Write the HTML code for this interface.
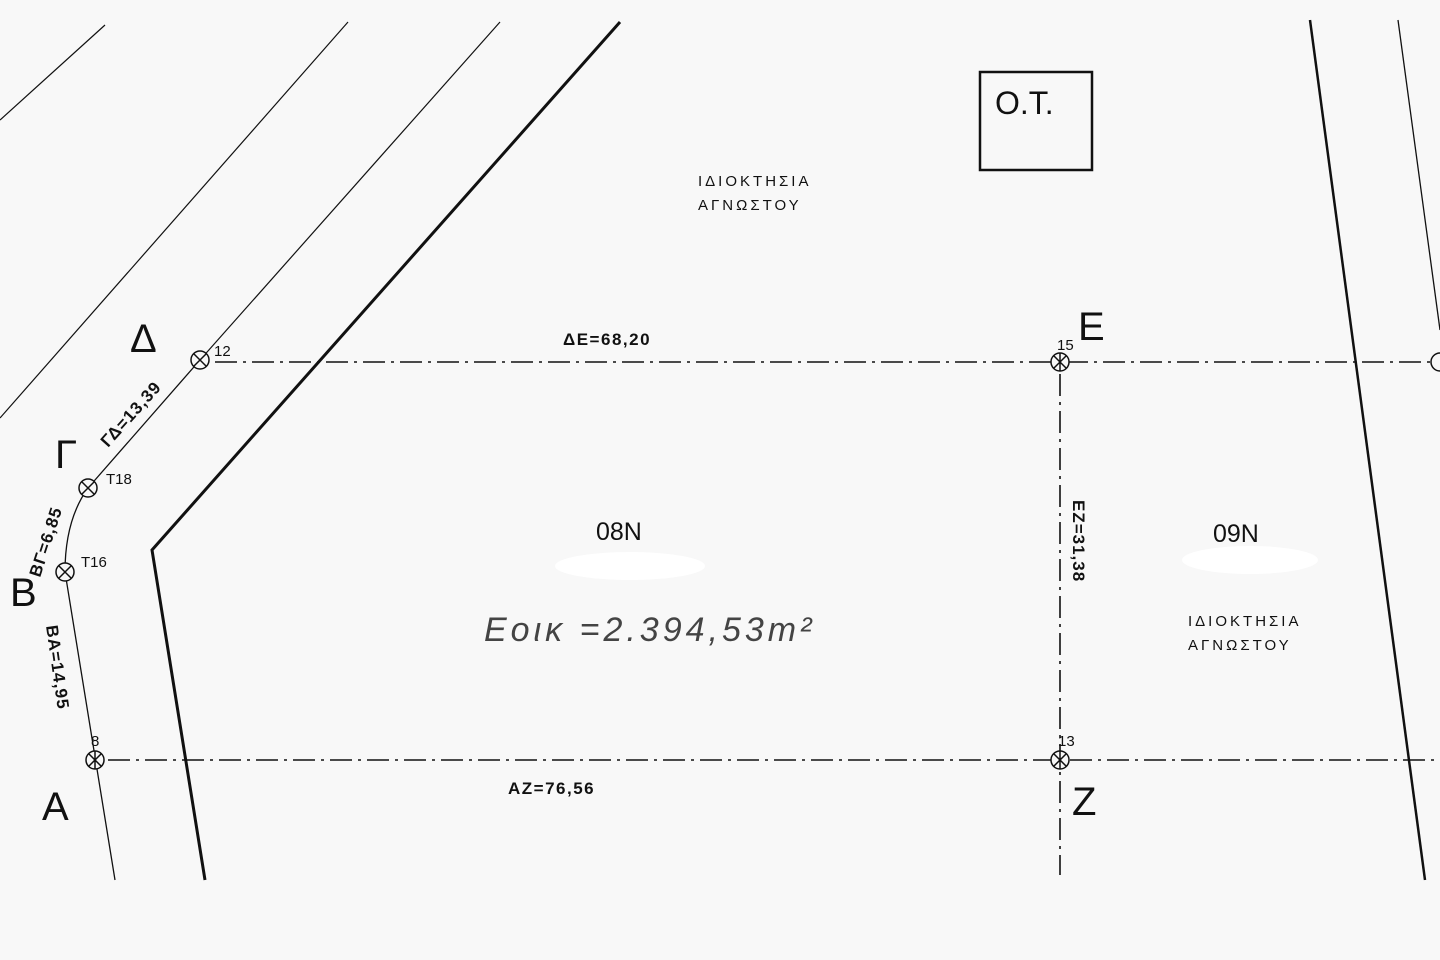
<!DOCTYPE html>
<html><head><meta charset="utf-8"><style>
html,body{margin:0;padding:0;background:#f8f8f8;}
svg{display:block;}
text{font-family:"Liberation Sans","DejaVu Sans",sans-serif;fill:#111;}
</style></head><body>
<svg width="1440" height="960" viewBox="0 0 1440 960" xmlns="http://www.w3.org/2000/svg">
<rect width="1440" height="960" fill="#f8f8f8"/>
<g stroke="#111" fill="none">
<line x1="0" y1="120" x2="105" y2="25" stroke-width="1.2"/>
<line x1="0" y1="418" x2="348" y2="22" stroke-width="1.2"/>
<line x1="200" y1="360" x2="500" y2="22" stroke-width="1.2"/>
<path d="M200 360 L88 488 Q65 520 65 572 L115 880" stroke-width="1.3"/>
<path d="M620 22 L152 550 L205 880" stroke-width="3"/>
<line x1="1310" y1="20" x2="1425" y2="880" stroke-width="2.5"/>
<line x1="1398" y1="20" x2="1440" y2="330" stroke-width="1.3"/>
<g stroke-width="1.6" stroke-dasharray="22,6,3,6">
<line x1="215" y1="362" x2="1440" y2="362"/>
<line x1="108" y1="760" x2="1440" y2="760"/>
<line x1="1060" y1="374" x2="1060" y2="875"/>
</g>
<rect x="980" y="72" width="112" height="98" stroke-width="2.5"/>
<g stroke-width="1.5">
<circle cx="200" cy="360" r="9" fill="#f8f8f8"/><path d="M194 354l12 12M206 354l-12 12"/>
<circle cx="88" cy="488" r="9" fill="#f8f8f8"/><path d="M82 482l12 12M94 482l-12 12"/>
<circle cx="65" cy="572" r="9" fill="#f8f8f8"/><path d="M59 566l12 12M71 566l-12 12"/>
<circle cx="95" cy="760" r="9" fill="#f8f8f8"/><path d="M89 754l12 12M101 754l-12 12M95 751v18"/>
<circle cx="1060" cy="362" r="9" fill="#f8f8f8"/><path d="M1054 356l12 12M1066 356l-12 12M1060 353v18"/>
<circle cx="1060" cy="760" r="9" fill="#f8f8f8"/><path d="M1054 754l12 12M1066 754l-12 12M1060 751v18"/>
<circle cx="1440" cy="362" r="9" fill="#f8f8f8"/>
</g>
</g>
<ellipse cx="630" cy="566" rx="75" ry="14" fill="#fff"/>
<ellipse cx="1250" cy="560" rx="68" ry="14" fill="#fff"/>
<text x="130" y="352" font-size="40">Δ</text>
<text x="214" y="356" font-size="15">12</text>
<text x="55" y="468" font-size="40">Γ</text>
<text x="106" y="484" font-size="15">T18</text>
<text x="10" y="606" font-size="40">B</text>
<text x="81" y="567" font-size="15">T16</text>
<text x="42" y="820" font-size="40">A</text>
<text x="91" y="746" font-size="15">8</text>
<text x="1078" y="340" font-size="40">E</text>
<text x="1057" y="350" font-size="15">15</text>
<text x="1072" y="815" font-size="40">Z</text>
<text x="1058" y="746" font-size="15">13</text>
<text x="995" y="114" font-size="32">O.T.</text>
<text x="698" y="186" font-size="15" letter-spacing="3">ΙΔΙΟΚΤΗΣΙΑ</text>
<text x="698" y="210" font-size="15" letter-spacing="3">ΑΓΝΩΣΤΟΥ</text>
<text x="1188" y="626" font-size="15" letter-spacing="3">ΙΔΙΟΚΤΗΣΙΑ</text>
<text x="1188" y="650" font-size="15" letter-spacing="3">ΑΓΝΩΣΤΟΥ</text>
<text x="596" y="540" font-size="25">08N</text>
<text x="1213" y="542" font-size="25">09N</text>
<text x="563" y="345" font-size="17" font-weight="bold" letter-spacing="1.5">ΔE=68,20</text>
<text x="508" y="794" font-size="17" font-weight="bold" letter-spacing="1.5">AZ=76,56</text>
<text transform="translate(1073,500) rotate(90)" font-size="17" font-weight="bold" letter-spacing="1">EZ=31,38</text>
<text transform="translate(108,448) rotate(-48)" font-size="17" font-weight="bold" letter-spacing="1">ΓΔ=13,39</text>
<text transform="translate(40,578) rotate(-72)" font-size="17" font-weight="bold" letter-spacing="1">BΓ=6,85</text>
<text transform="translate(46,626) rotate(82)" font-size="17" font-weight="bold" letter-spacing="1">BA=14,95</text>
<text x="484" y="641" font-size="34" font-style="italic" style="fill:#444" letter-spacing="4">Eοικ =2.394,53m²</text>
</svg>
</body></html>
